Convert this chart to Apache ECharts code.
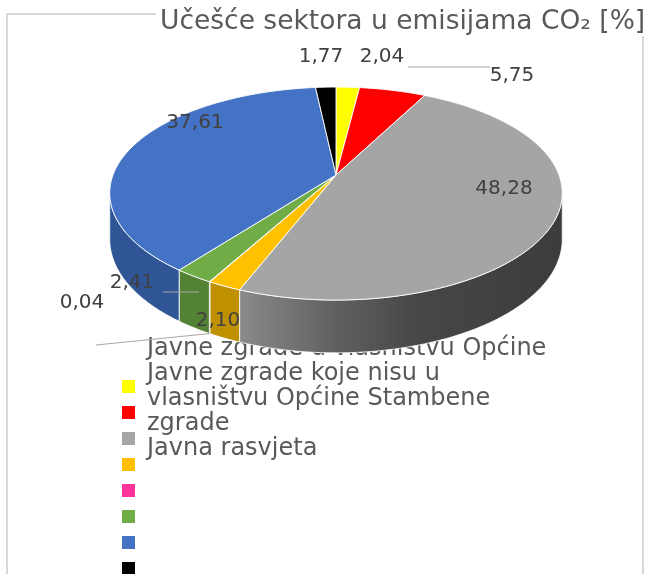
<!DOCTYPE html>
<html>
<head>
<meta charset="utf-8">
<script src="https://cdn.jsdelivr.net/npm/echarts@6/dist/echarts.min.js"></script>
<style>
html,body{margin:0;padding:0;background:#fff}
#main{width:647px;height:574px}
</style>
</head>
<body>
<div id="main"></div>
<script>
// podaci
var titleText = 'Učešće sektora u emisijama CO₂ [%]';
var values = [2.04, 5.75, 48.28, 2.10, 0.04, 2.41, 37.61, 1.77];
var colors = ['#ffff00', '#ff0000', '#a5a5a5', '#ffc000', '#ff3399', '#70ad47', '#4472c4', '#000000'];
var legendText = [
    'Javne zgrade u vlasništvu Općine',
    'Javne zgrade koje nisu u',
    'vlasništvu Općine Stambene',
    'zgrade',
    'Javna rasvjeta'
];

// izgled (polozaj oznaka)
var labelPos = [[382, 57], [512, 76], [504, 189], [218, 321], [82, 303], [132, 283], [195, 123], [321, 57]];
var sideColors = [
    '#bfbf00', '#bf0000',
    {type: 'linear', x: 0, y: 0, x2: 1, y2: 0, colorStops: [
        {offset: 0, color: '#8a8a8a'}, {offset: 0.3, color: '#606060'},
        {offset: 0.55, color: '#474747'}, {offset: 1, color: '#3c3c3c'}]},
    '#bf9000', '#bf2673', '#548235', '#2f5597', '#000000'
];
var PIE = {cx: 336, cy: 175, rx: 223, ry: 106.5, k: 0.174, h: 45};

var total = 0;
values.forEach(function (v) { total += v; });
var angles = [], acc = 0;
values.forEach(function (v) {
    angles.push([acc / total * 360, (acc + v) / total * 360]);
    acc += v;
});

function pt(deg, drop) {
    var t = deg * Math.PI / 180, u = Math.sin(t), v = -Math.cos(t), s = 1 + PIE.k * v;
    return [PIE.cx + PIE.rx * u * s, PIE.cy + (PIE.ry * v + (drop || 0)) * s];
}
function arc(a, b, drop) {
    var n = Math.max(2, Math.ceil(Math.abs(b - a))), pts = [];
    for (var i = 0; i <= n; i++) pts.push(pt(a + (b - a) * i / n, drop));
    return pts;
}
// vidljivi dio boka
var c0 = (1 - Math.sqrt(1 + 8 * PIE.k * PIE.k)) / (4 * PIE.k);
var thR = Math.acos(c0) * 180 / Math.PI, thL = 360 - thR;

var chart = echarts.init(document.getElementById('main'));

var graphics = [
    {type: 'rect', shape: {x: 7, y: 14, width: 636, height: 590}, style: {fill: 'none', stroke: '#d9d9d9', lineWidth: 2}, z: 0},
    {type: 'rect', shape: {x: 156, y: 2, width: 491, height: 34}, style: {fill: '#fff'}, z: 1},
    {type: 'text', x: 160, y: 22.5, z: 2, style: {text: titleText, fill: '#595959', font: '26.5px "DejaVu Sans"', verticalAlign: 'middle'}},
    {type: 'text', x: 147, y: 336.5, z: 0, style: {text: legendText.join('\n'), fill: '#595959', font: '24px "DejaVu Sans"', lineHeight: 25, verticalAlign: 'top'}}
];
colors.forEach(function (c, i) {
    graphics.push({type: 'rect', shape: {x: 122, y: 380 + i * 26, width: 13, height: 13}, style: {fill: c}, z: 0});
});
// linije oznaka
var pinkMid = (angles[4][0] + angles[4][1]) / 2;
graphics.push({type: 'polyline', z: 20, shape: {points: [pt(pinkMid, PIE.h), [96, 345]]}, style: {stroke: '#a6a6a6', lineWidth: 1}});
graphics.push({type: 'polyline', z: 20, shape: {points: [[408, 67], [490, 67]]}, style: {stroke: '#a6a6a6', lineWidth: 1}});
graphics.push({type: 'polyline', z: 20, shape: {points: [[163, 292], [199, 292]]}, style: {stroke: '#a6a6a6', lineWidth: 1}});
values.forEach(function (v, i) {
    graphics.push({type: 'text', x: labelPos[i][0], y: labelPos[i][1], z: 30, style: {
        text: v.toFixed(2).replace('.', ','), fill: '#404040', font: '20px "DejaVu Sans"', align: 'center', verticalAlign: 'middle'}});
});

chart.setOption({
    animation: false,
    graphic: graphics,
    series: [
        {
            type: 'custom', coordinateSystem: 'none', z: 5, silent: true,
            data: values,
            renderItem: function (params) {
                var i = params.dataIndex;
                var a = Math.max(angles[i][0], thR), b = Math.min(angles[i][1], thL);
                if (a >= b) return null;
                var pts = arc(a, b, 0).concat(arc(b, a, PIE.h));
                return {type: 'polygon', shape: {points: pts}, style: {fill: sideColors[i], stroke: 'rgba(255,255,255,0.8)', lineWidth: 1}};
            }
        },
        {
            type: 'custom', coordinateSystem: 'none', z: 6, silent: true,
            data: values,
            renderItem: function (params) {
                var i = params.dataIndex;
                var pts = [[PIE.cx, PIE.cy]].concat(arc(angles[i][0], angles[i][1], 0));
                return {type: 'polygon', shape: {points: pts}, style: {fill: colors[i], stroke: 'rgba(255,255,255,0.9)', lineWidth: 1}};
            }
        }
    ]
});
</script>
</body>
</html>
